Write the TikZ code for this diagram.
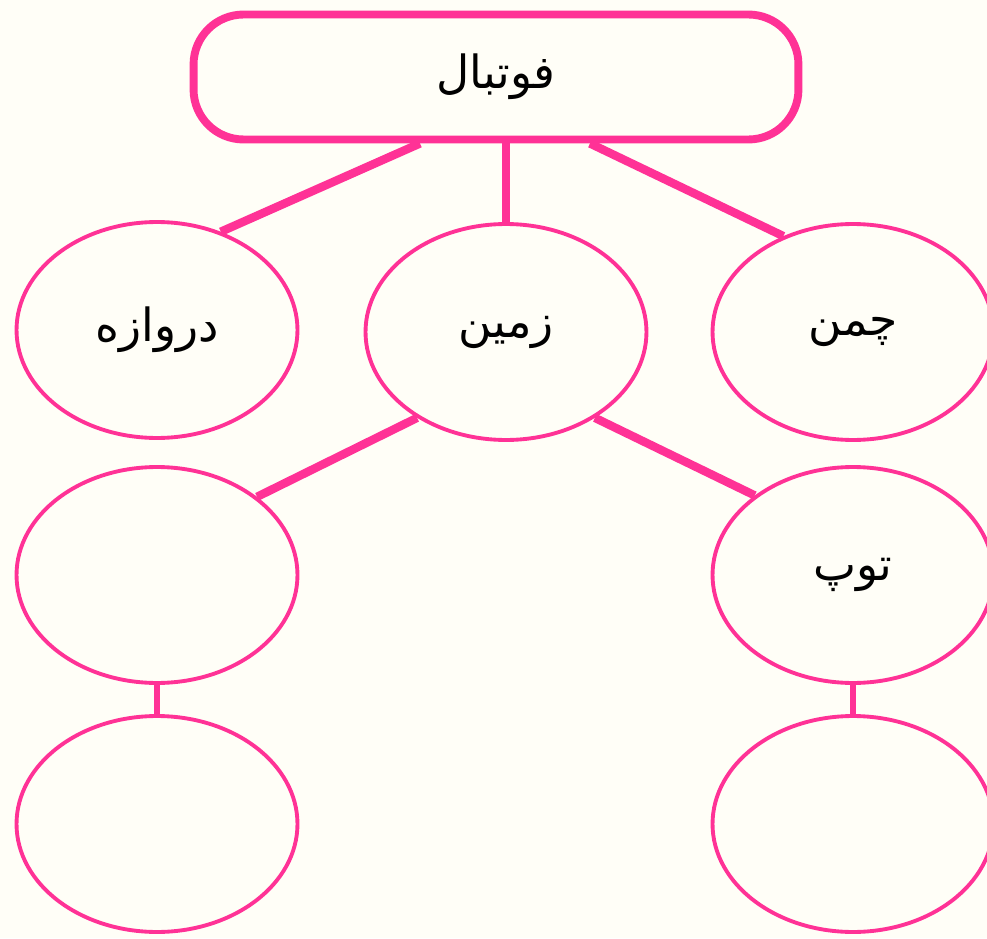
\documentclass[tikz,border=0pt]{standalone}
\usepackage{fontspec}
\newfontfamily\persianfont[Script=Arabic]{DejaVu Sans}
\TeXXeTstate=1
\usetikzlibrary{shapes.geometric}
\definecolor{mappink}{RGB}{255,50,150}
\definecolor{papercream}{RGB}{255,254,247}

\begin{document}
\begin{tikzpicture}[x=0.02cm,y=0.02cm]
    \useasboundingbox (0,0) rectangle (987,938);
    \fill[papercream] (0,0) rectangle (987,938);

    \begin{scope}[every node/.style={ellipse,draw=mappink,line width=2.2pt,
                  minimum width=5.62cm,minimum height=4.32cm,inner sep=0pt,
                  font=\persianfont\fontsize{26}{30}\selectfont}]
        \node[rectangle, rounded corners=1cm, line width=4.5pt,
              minimum width=12.1cm, minimum height=2.5cm] (football) at (496,861) {\beginR فوتبال\endR};
        \node (gate) at (157,608) {\beginR دروازه\endR};
        \node (ground) at (506,606) {\beginR زمین\endR};
        \node (grass) at (853,606) {\beginR چمن\endR};
        \node (blankL) at (157,363) {};
        \node (ball) at (853,363) {\beginR توپ\endR};
        \node (blankLL) at (157,114) {};
        \node (blankRR) at (853,114) {};
    \end{scope}

    \begin{scope}[every edge/.style={draw=mappink, line width=4.8pt}]
        \path ([xshift=-1.52cm]football.south) edge (gate.57);
        \path (ground.north) edge (ground.north |- football.south);
        \path ([xshift=1.88cm]football.south) edge (grass.126);
        \path (ground.224) edge (blankL.38);
        \path (ground.316) edge (ball.141);
        \path (blankL.south) edge[line width=3.4pt] (blankLL.north);
        \path (ball.south) edge[line width=3.4pt] (blankRR.north);
    \end{scope}
\end{tikzpicture}
\end{document}
